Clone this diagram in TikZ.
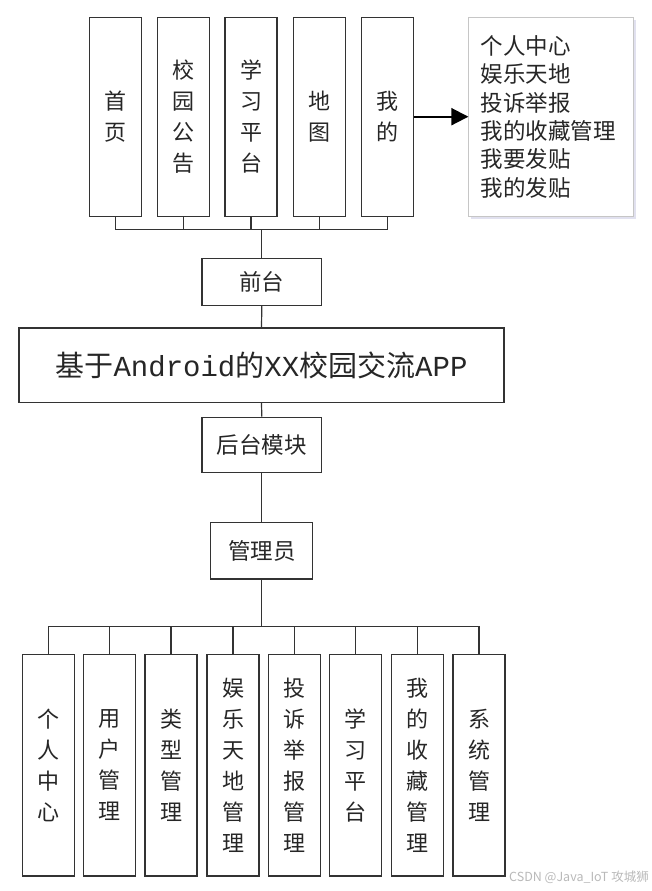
\documentclass[tikz,border=0pt]{standalone}
\usepackage{fontspec}
\newfontfamily\cjk{Noto Sans CJK SC}
\newfontfamily\monolat{Liberation Mono}
\usetikzlibrary{arrows.meta,shadows}

\begin{document}
\begin{tikzpicture}[x=1pt,y=-1pt]
	\tikzstyle{Col} = [rectangle, minimum width=52pt, minimum height=199pt, inner sep=0pt, align=center, draw=black!80, line width=1.2pt, text=black!85, font=\cjk\fontsize{22}{31}\selectfont]
	\tikzstyle{Low} = [Col, minimum height=221.5pt]
	\tikzstyle{Box} = [rectangle, inner sep=0pt, draw=black!80, line width=1.2pt, text=black!85, font=\cjk\fontsize{22.5}{26}\selectfont]
	\tikzstyle{wire} = [line width=1.2pt, draw=black!80]
	\tikzstyle{arrow} = [line width=2pt, -{Triangle[length=17pt,width=17pt]}]

	\useasboundingbox (0,0) rectangle (652,891);

	% front end
	\node (sy) [Col] at (115.5,116.7) {首\\页};
	\node (xy) [Col] at (183.3,116.7) {校\\园\\公\\告};
	\node (xx) [Col] at (251.0,116.7) {学\\习\\平\\台};
	\node (dt) [Col] at (319.2,116.7) {地\\图};
	\node (wd) [Col] at (387.5,116.7) {我\\的};
	\node (menu) [rectangle, draw=gray!45, line width=0.8pt, fill=white, minimum width=165pt, minimum height=199pt, text width=141pt, inner sep=0pt, align=left, text=black!85, font=\cjk\fontsize{22.5}{28.4}\selectfont, drop shadow={shadow xshift=2pt, shadow yshift=-3pt, fill=blue!30!gray!30, opacity=0.6}] at (551.3,116.7) {个人中心\\娱乐天地\\投诉举报\\我的收藏管理\\我要发贴\\我的发贴};
	\node (qt) [Box, minimum width=119.5pt, minimum height=47pt] at (261.8,281.8) {前台};
	\coordinate (topbus) at (261.8,229.5);

	\draw [arrow] (wd.east) -- (menu.west);
	\draw [wire] (sy.south) |- (topbus);
	\draw [wire] (xy.south) |- (topbus);
	\draw [wire] (xx.south) |- (topbus);
	\draw [wire] (dt.south) |- (topbus);
	\draw [wire] (wd.south) |- (topbus);
	\draw [wire] (topbus) -- (qt.north);

	% system
	\node (app) [Box, minimum width=485pt, minimum height=74.5pt, font=\fontsize{29}{32}\selectfont] at (261.5,365.3) {{\cjk 基于}{\monolat Android}{\cjk 的}{\monolat XX}{\cjk 校园交流}{\monolat APP}};
	\node (ht) [Box, minimum width=119.5pt, minimum height=55pt] at (261.8,444.8) {后台模块};
	\node (gly) [Box, minimum width=102pt, minimum height=56.3pt] at (261.8,550.8) {管理员};
	\draw [wire] (qt.south) -- (app.north);
	\draw [wire] (app.south) -- (ht.north);
	\draw [wire] (ht.south) -- (gly.north);

	% back end
	\node (grzx) [Low] at (48.3,765.2) {个\\人\\中\\心};
	\node (yhgl) [Low] at (109.7,765.2) {用\\户\\管\\理};
	\node (lxgl) [Low] at (171.0,765.2) {类\\型\\管\\理};
	\node (ylgl) [Low] at (233.0,765.2) {娱\\乐\\天\\地\\管\\理};
	\node (tsgl) [Low] at (294.7,765.2) {投\\诉\\举\\报\\管\\理};
	\node (xxpt) [Low] at (355.8,765.2) {学\\习\\平\\台};
	\node (scgl) [Low] at (417.3,765.2) {我\\的\\收\\藏\\管\\理};
	\node (xtgl) [Low] at (479.0,765.2) {系\\统\\管\\理};
	\coordinate (botbus) at (261.8,626.7);

	\draw [wire] (gly.south) -- (botbus);
	\draw [wire] (botbus) -| (grzx.north);
	\draw [wire] (botbus) -| (yhgl.north);
	\draw [wire] (botbus) -| (lxgl.north);
	\draw [wire] (botbus) -| (ylgl.north);
	\draw [wire] (botbus) -| (tsgl.north);
	\draw [wire] (botbus) -| (xxpt.north);
	\draw [wire] (botbus) -| (scgl.north);
	\draw [wire] (botbus) -| (xtgl.north);

	\node (mark) [anchor=west, inner sep=0pt, text=gray!55, font=\cjk\fontsize{12.5}{13}\selectfont] at (509,877.5) {CSDN @Java\_IoT 攻城狮};
\end{tikzpicture}
\end{document}
